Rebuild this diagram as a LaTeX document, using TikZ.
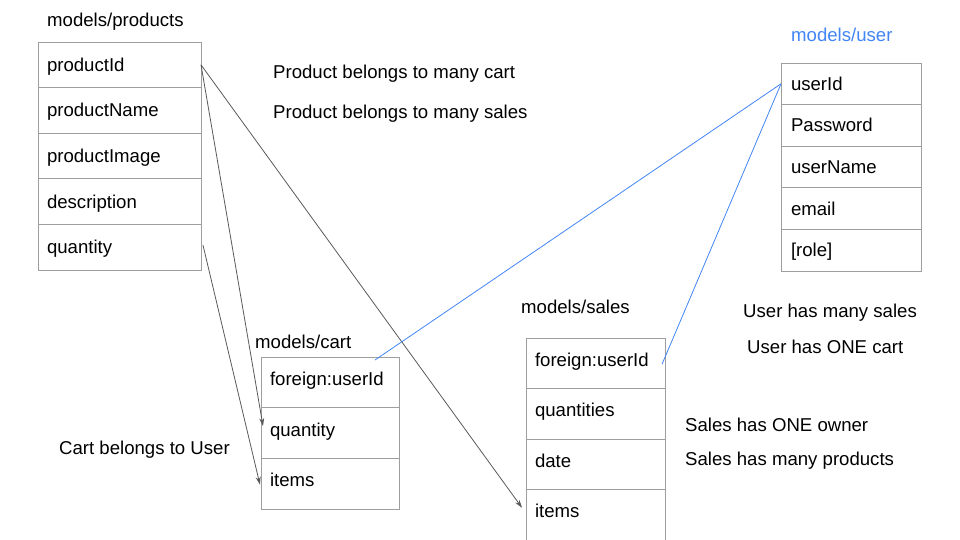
\documentclass[tikz,border=0pt]{standalone}
\usepackage{fontspec}
\setmainfont{Liberation Sans}
\usetikzlibrary{arrows.meta, positioning}
\definecolor{gridgray}{RGB}{158,158,158}
\definecolor{linkgray}{RGB}{89,89,89}
\definecolor{userblue}{RGB}{66,133,244}
\newcommand{\diagfont}{\fontsize{18.6pt}{22pt}\selectfont}

\tikzset{
  field/.style={draw=gridgray, line width=0.8pt, outer sep=0pt,
                inner xsep=9pt, inner ysep=0pt, align=left,
                text height=17pt, text depth=4pt, font=\diagfont},
  prodrow/.style={field, text width=145pt, minimum height=45.6pt},
  userrow/.style={field, text width=120pt, inner xsep=10pt, minimum height=41.6pt},
  cartrow/.style={field, text width=120pt, text height=10pt, minimum height=50.7pt},
  salesrow/.style={field, text width=121pt, text height=10pt, minimum height=50.5pt},
  label/.style={anchor=west, inner sep=0pt, font=\diagfont},
  link/.style={draw=linkgray, line width=0.8pt, -{Stealth[length=8pt, width=5pt]}},
  userlink/.style={draw=userblue, line width=0.8pt}
}

\begin{document}
\begin{tikzpicture}[x=1pt, y=-1pt]
  \useasboundingbox (0,0) rectangle (960,540);

  % products table
  \node[label] (p-title) at (47,22) {models/products};
  \node[prodrow, anchor=north west] (p-id) at (38,42) {productId};
  \node[prodrow, below=0pt of p-id] (p-name) {productName};
  \node[prodrow, below=0pt of p-name] (p-img) {productImage};
  \node[prodrow, below=0pt of p-img] (p-desc) {description};
  \node[prodrow, below=0pt of p-desc] (p-qty) {quantity};

  % user table
  \node[label, text=userblue] (u-title) at (791,35) {models/user};
  \node[userrow, anchor=north west] (u-id) at (781,63) {userId};
  \node[userrow, below=0pt of u-id] (u-pass) {Password};
  \node[userrow, below=0pt of u-pass] (u-name) {userName};
  \node[userrow, below=0pt of u-name] (u-mail) {email};
  \node[userrow, below=0pt of u-mail] (u-role) {[role]};

  % cart table
  \node[label] (c-title) at (255,342) {models/cart};
  \node[cartrow, anchor=north west] (c-fk) at (261,357) {foreign:userId};
  \node[cartrow, below=0pt of c-fk] (c-qty) {quantity};
  \node[cartrow, below=0pt of c-qty] (c-items) {items};

  % sales table
  \node[label] (s-title) at (521,307) {models/sales};
  \node[salesrow, anchor=north west] (s-fk) at (526,338) {foreign:userId};
  \node[salesrow, below=0pt of s-fk] (s-qty) {quantities};
  \node[salesrow, below=0pt of s-qty] (s-date) {date};
  \node[salesrow, below=0pt of s-date] (s-items) {items};

  % notes
  \node[label] (n-pcart) at (273,74) {Product belongs to many cart};
  \node[label] (n-psales) at (273,114) {Product belongs to many sales};
  \node[label] (n-usales) at (743,313) {User has many sales};
  \node[label] (n-ucart) at (747,347) {User has ONE cart};
  \node[label] (n-sowner) at (685,425) {Sales has ONE owner};
  \node[label] (n-sprod) at (685,461) {Sales has many products};
  \node[label] (n-cuser) at (59,450) {Cart belongs to User};

  % relations
  \draw[link] (p-id.east) -- ([shift={(2pt,7pt)}]c-qty.west);
  \draw[link] (p-id.east) -- ([shift={(-4pt,7pt)}]s-items.west);
  \draw[link] ([shift={(2pt,2pt)}]p-qty.east) -- ([shift={(-1pt,-1pt)}]c-items.west);
  \draw[userlink] (u-id.west) -- ([shift={(45pt,-3pt)}]c-fk.north);
  \draw[userlink] (u-id.west) -- ([shift={(-3pt,-1pt)}]s-fk.east);
\end{tikzpicture}
\end{document}
